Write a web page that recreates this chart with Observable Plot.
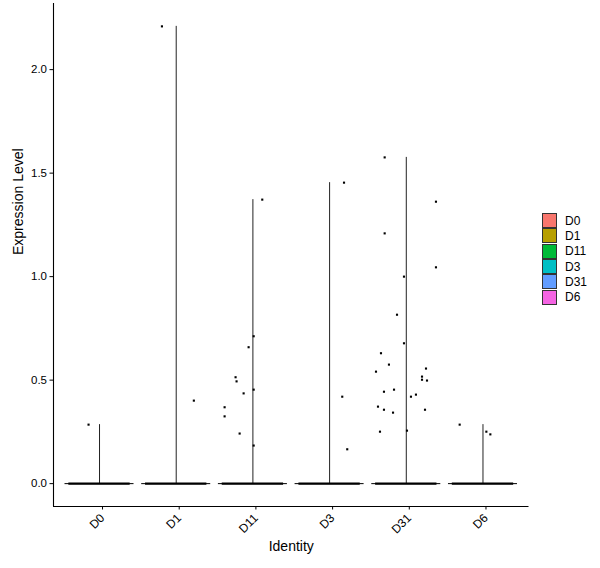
<!DOCTYPE html>
<html>
<head>
<meta charset="utf-8">
<script src="https://cdn.jsdelivr.net/npm/d3@7"></script>
<script src="https://cdn.jsdelivr.net/npm/@observablehq/plot@0.6"></script>
<style>
  html, body { margin: 0; padding: 0; background: #fff; }
  #wrap { position: relative; width: 600px; height: 568px; font-family: "Liberation Sans", Arial, sans-serif; }
  #legend { position: absolute; left: 542px; top: 213px; font-size: 12px; color: #000; }
  .key { display: flex; align-items: center; height: 15.3px; }
  .sw { width: 13px; height: 13px; border: 0.8px solid #333; box-sizing: content-box; margin-right: 8px; }
</style>
</head>
<body>
<div id="wrap"></div>
<script>
// Categories (identities) and their ggplot hue colours
const cats = ["D0", "D1", "D11", "D3", "D31", "D6"];
const colors = ["#F8766D", "#B79F00", "#00BA38", "#00BFC4", "#619CFF", "#F564E3"];
// Maximum expression per identity (top of violin tail)
const maxExpr = [0.285, 2.209, 1.372, 1.454, 1.576, 0.285];
// Non-zero cells: identity, expression value, horizontal jitter (band units)
const ptIdent = [
  "D0",
  "D1", "D1",
  "D11", "D11", "D11", "D11", "D11", "D11", "D11", "D11", "D11", "D11", "D11",
  "D3", "D3", "D3",
  "D31", "D31", "D31", "D31", "D31", "D31", "D31", "D31", "D31", "D31", "D31", "D31",
  "D31", "D31", "D31", "D31", "D31", "D31", "D31", "D31", "D31", "D31", "D31", "D31",
  "D6", "D6", "D6"
];
const ptValue = [
  0.285,
  2.209, 0.401,
  1.372, 0.712, 0.659, 0.514, 0.494, 0.454, 0.436, 0.369, 0.325, 0.242, 0.184,
  1.454, 0.420, 0.166,
  1.576, 1.362, 1.209, 1.045, 1.000, 0.816, 0.678, 0.630, 0.575, 0.541, 0.556, 0.517,
  0.502, 0.498, 0.444, 0.454, 0.430, 0.420, 0.372, 0.357, 0.343, 0.357, 0.251, 0.256,
  0.285, 0.251, 0.238
];
const ptJitter = [
  -0.143,
  -0.186, 0.23,
  0.122, 0.01, -0.056, -0.226, -0.213, 0.01, -0.121, -0.369, -0.369, -0.173, 0.01,
  0.188, 0.165, 0.23,
  -0.282, 0.387, -0.282, 0.387, -0.03, -0.121, -0.03, -0.33, -0.226, -0.395, 0.257, 0.205,
  0.205, 0.27, -0.291, -0.16, 0.126, 0.061, -0.369, -0.291, -0.173, 0.244, -0.343, 0.009,
  -0.304, 0.044, 0.096
];
// Zero-valued cells are jittered over +/-0.4; violin outline spans +/-0.45
const jitterWidth = 0.4;
const violinHalfWidth = 0.45;
const yTicks = [0, 0.5, 1.0, 1.5, 2.0];

const groups = cats.map((c, i) => ({ident: c, i, max: maxExpr[i], color: colors[i]}));
const points = ptIdent.map((c, k) => ({ident: c, x: cats.indexOf(c) + ptJitter[k], y: ptValue[k]}));

const yMax = d3.max(maxExpr);
const pad = yMax * 0.05;
const yDomain = [-pad, yMax + pad];
const xDomain = [-0.6, cats.length - 1 + 0.6];

const font = '"Liberation Sans", Arial, sans-serif';

const chart = Plot.plot({
  width: 600,
  height: 568,
  marginLeft: 53,
  marginRight: 71.5,
  marginTop: 3,
  marginBottom: 62,
  style: {fontFamily: font, fontSize: "11px", color: "#000", background: "#fff"},
  x: {domain: xDomain, axis: null},
  y: {domain: yDomain, axis: null},
  marks: [
    // violin bases (outline collapsed at 0)
    Plot.ruleY(groups, {y: 0, x1: d => d.i - violinHalfWidth, x2: d => d.i + violinHalfWidth, stroke: "#000", strokeWidth: 1}),
    // violin tails
    Plot.ruleX(groups, {x: "i", y1: 0, y2: "max", stroke: "#222", strokeWidth: 1}),
    // zero-valued jittered cells
    Plot.ruleY(groups, {y: 0, x1: d => d.i - jitterWidth, x2: d => d.i + jitterWidth, stroke: "#000", strokeWidth: 2.2}),
    // non-zero cells
    Plot.dot(points, {x: "x", y: "y", symbol: "square", r: 1.2, fill: "#000", stroke: null}),
    // axis lines
    Plot.ruleX([xDomain[0]], {stroke: "#000", strokeWidth: 1.1}),
    Plot.ruleY([yDomain[0]], {stroke: "#000", strokeWidth: 1.1}),
    Plot.axisY({ticks: yTicks, tickFormat: d3.format(".1f"), tickSize: 3.5, tickPadding: 3, label: null, fontSize: 11.5}),
    Plot.axisX({ticks: d3.range(cats.length), tickFormat: i => cats[i], tickSize: 3.5, tickRotate: -45, tickPadding: 6, dx: 3, label: null, fontSize: 12}),
    Plot.text(["Expression Level"], {frameAnchor: "left", dx: -35, rotate: -90, fontSize: 14, fill: "#000"}),
    Plot.text(["Identity"], {frameAnchor: "bottom", dy: 44, fontSize: 14, fill: "#000"})
  ]
});

const wrap = document.getElementById("wrap");
wrap.appendChild(chart);

const legend = document.createElement("div");
legend.id = "legend";
cats.forEach((c, i) => {
  const row = document.createElement("div");
  row.className = "key";
  const sw = document.createElement("div");
  sw.className = "sw";
  sw.style.background = colors[i];
  const lab = document.createElement("span");
  lab.textContent = c;
  row.appendChild(sw);
  row.appendChild(lab);
  legend.appendChild(row);
});
wrap.appendChild(legend);
</script>
</body>
</html>
